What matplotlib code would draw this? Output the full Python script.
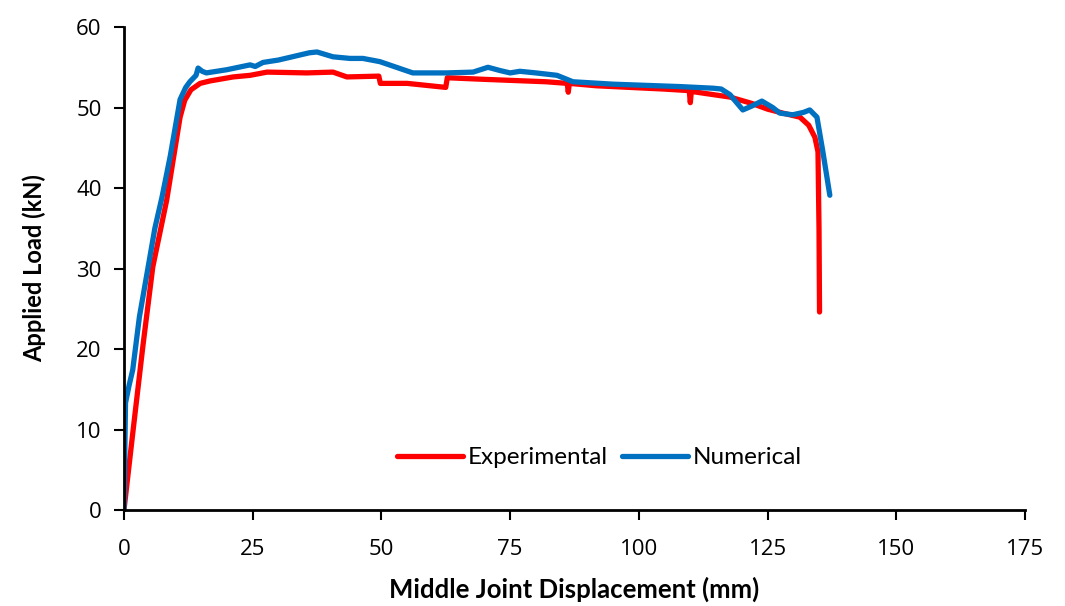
import matplotlib

matplotlib.use("Agg")
import matplotlib.pyplot as plt

# values
exp_x = [0, 1.7, 3.7, 5.6, 8.3, 10.9, 11.8, 13, 14.8, 16.7, 21.2, 24.5, 27.8, 35.5,
         40.6, 43.3, 49.5, 49.8, 55, 62.5, 62.8, 70, 82, 86.1, 86.3, 86.5, 91.8,
         104.7, 109.8, 110, 110.2, 117.7, 122, 125, 128, 131.3, 133, 134.2, 134.8,
         135.0, 135.1]
exp_y = [0, 9.5, 20.5, 30.2, 38.5, 48.8, 50.9, 52.2, 53, 53.3, 53.8, 54, 54.4, 54.3,
         54.4, 53.8, 53.9, 53.0, 53.0, 52.5, 53.7, 53.5, 53.2, 53.0, 51.9, 53.0, 52.7,
         52.3, 52.1, 50.6, 52.0, 51.3, 50.5, 49.8, 49.3, 48.8, 47.8, 46.3, 44.5,
         35, 24.6]

num_x = [0, 0.3, 1.0, 1.7, 3.0, 4.7, 6.0, 7.4, 9.0, 10.9, 12.0, 12.8, 14.0, 14.4,
         15.2, 16.0, 20, 24.5, 25.5, 27, 30, 36, 37.5, 40.6, 43.9, 46.4, 49.7, 56.1,
         62.7, 67.8, 70.7, 73, 75, 76.9, 80, 84.1, 87.2, 95, 108, 114.4, 116, 117.7,
         120.2, 122, 123.9, 126, 127.4, 129.9, 132, 133.2, 134.6, 135.7, 137.1]
num_y = [0, 13.3, 15.5, 17.4, 24, 30.2, 35, 38.9, 44, 51, 52.5, 53.2, 54.0, 54.9,
         54.5, 54.3, 54.7, 55.3, 55.1, 55.6, 55.9, 56.8, 56.9, 56.3, 56.1, 56.1, 55.7,
         54.3, 54.3, 54.4, 55.0, 54.6, 54.3, 54.5, 54.3, 54.0, 53.2, 52.9, 52.6, 52.4,
         52.3, 51.6, 49.7, 50.2, 50.8, 50.0, 49.3, 49.1, 49.4, 49.7, 48.8, 44.7, 39.1]

x_ticks = [0, 25, 50, 75, 100, 125, 150, 175]
y_ticks = [0, 10, 20, 30, 40, 50, 60]

plt.rcParams["font.family"] = ["Open Sans", "DejaVu Sans"]

fig = plt.figure(figsize=(10.65, 6.06), dpi=100)
ax = fig.add_axes([0.1164, 0.1584, 0.8460, 0.7970])

ax.plot(exp_x, exp_y, color="#ff0000", lw=3.8, label="Experimental",
        solid_capstyle="round", solid_joinstyle="round")
ax.plot(num_x, num_y, color="#0070c0", lw=3.8, label="Numerical",
        solid_capstyle="round", solid_joinstyle="round")

ax.set_xlim(0, 175)
ax.set_ylim(0, 60)
ax.set_xticks(x_ticks)
ax.set_yticks(y_ticks)
ax.tick_params(labelsize=16, width=1.5, length=7, colors="black", pad=14)
ax.tick_params(axis="y", pad=9)
for s in ["top", "right"]:
    ax.spines[s].set_visible(False)
for s in ["left", "bottom"]:
    ax.spines[s].set_linewidth(2)

ax.set_xlabel("Middle Joint Displacement (mm)", fontsize=18.5, fontweight="bold",
              family="Lato", labelpad=12)
ax.set_ylabel("Applied Load (kN)", fontsize=17, fontweight="bold",
              family="Lato", labelpad=22)

ax.legend(loc="center", bbox_to_anchor=(0.528, 0.108), ncol=2, frameon=False,
          handlelength=2.7, handletextpad=0.2, columnspacing=0.6,
          prop={"family": "Lato", "size": 17.5})

fig.savefig("out.png", dpi=100)
